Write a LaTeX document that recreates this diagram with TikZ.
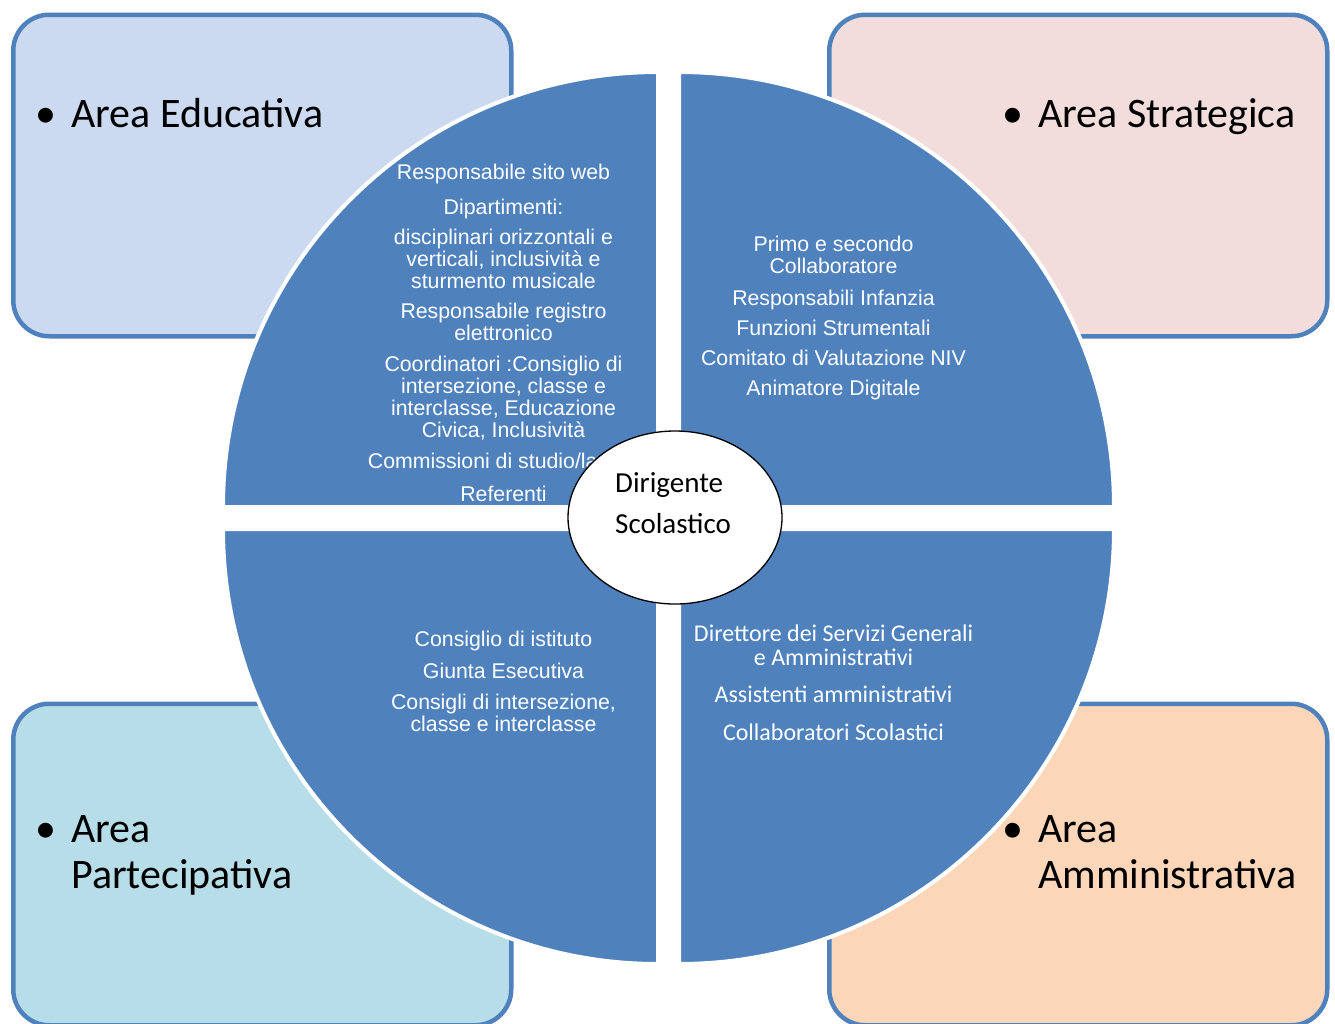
\documentclass[tikz,border=0pt]{standalone}
\usepackage{fontspec}
\setmainfont{Carlito}
\newfontfamily\arialfont{Liberation Sans}
\usepackage{tikz}
\usetikzlibrary{positioning,shapes.geometric}

\definecolor{quadblue}{HTML}{4F81BD}
\definecolor{edufill}{HTML}{CBDAF0}
\definecolor{strfill}{HTML}{F2DDDC}
\definecolor{parfill}{HTML}{B7DDE8}
\definecolor{ammfill}{HTML}{FBD6B8}

\tikzset{
	areabox/.style={draw=quadblue,line width=4.5pt,rounded corners=36pt,minimum width=498pt,minimum height=321.5pt,anchor=north west,inner sep=0pt},
	quadrant/.style={fill=quadblue,draw=white,line width=4pt},
	arealabel/.style={anchor=base west,inner sep=0pt,font=\fontsize{42}{46}\selectfont},
	voice/.style={anchor=north,align=center,inner sep=0pt,text=white,font=\arialfont\fontsize{21.3}{22}\selectfont},
	voicec/.style={voice,font=\fontsize{24}{24.3}\selectfont},
}

\begin{document}
\begin{tikzpicture}[x=1pt,y=-1pt]
		\useasboundingbox (0,0) rectangle (1335,1023);
		% area boxes
		\node[areabox,fill=edufill] (edu) at (11,12.5) {};
		\node[areabox,fill=strfill] (str) at (827,12.5) {};
		\node[areabox,fill=parfill] (par) at (11,701.5) {};
		\node[areabox,fill=ammfill] (amm) at (827,701.5) {};
		% quarter circles
		\filldraw[quadrant] (658,507) -- (223,507) arc (180:270:435) -- cycle;
		\filldraw[quadrant] (679,507) -- (679,72) arc (270:360:435) -- cycle;
		\filldraw[quadrant] (658,529) -- (223,529) arc (180:90:435) -- cycle;
		\filldraw[quadrant] (679,529) -- (1114,529) arc (0:90:435) -- cycle;
		% educativa
		\node[voice] (e1) at (503.5,164) {Responsabile sito web};
		\node[voice] (e2) at (503.5,199) {Dipartimenti:};
		\node[voice] (e3) at (503.5,228.5) {disciplinari orizzontali e\\verticali, inclusività e\\sturmento musicale};
		\node[voice] (e4) at (503.5,302.5) {Responsabile registro\\elettronico};
		\node[voice] (e5) at (503.5,356) {Coordinatori :Consiglio di\\intersezione, classe e\\interclasse, Educazione\\Civica, Inclusività};
		\node[voice] (e6) at (503.5,452.5) {Commissioni di studio/lavoro};
		\node[voice] (e7) at (503.5,486) {Referenti};
		% strategica
		\node[voice] (s1) at (833.5,236) {Primo e secondo\\Collaboratore};
		\node[voice] (s2) at (833.5,289.5) {Responsabili Infanzia};
		\node[voice] (s3) at (833.5,319.5) {Funzioni Strumentali};
		\node[voice] (s4) at (833.5,350) {Comitato di Valutazione NIV};
		\node[voice] (s5) at (833.5,380) {Animatore Digitale};
		% partecipativa
		\node[voice] (p1) at (503.5,631) {Consiglio di istituto};
		\node[voice] (p2) at (503.5,663) {Giunta Esecutiva};
		\node[voice] (p3) at (503.5,693.5) {Consigli di intersezione,\\classe e interclasse};
		% amministrativa
		\node[voicec] (a1) at (833.5,624.7) {Direttore dei Servizi Generali\\e Amministrativi};
		\node[voicec] (a2) at (833.5,685.7) {Assistenti amministrativi};
		\node[voicec] (a3) at (833.5,723.3) {Collaboratori Scolastici};
		% dirigente
		\node[ellipse,draw=black,line width=1.3pt,fill=white,minimum width=214pt,minimum height=173pt] (dir) at (675,517.5) {};
		\node[anchor=base west,inner sep=0pt,font=\fontsize{29}{30}\selectfont] (dir1) at (615,492) {Dirigente};
		\node[below=41pt of dir1.base west,anchor=base west,inner sep=0pt,font=\fontsize{29}{30}\selectfont] (dir2) {Scolastico};
		% area labels
		\node[arealabel] (edu1) at (35,127) {\makebox[36pt][l]{•}Area Educativa};
		\node[arealabel] (str1) at (1002,127) {\makebox[36pt][l]{•}Area Strategica};
		\node[arealabel] (par1) at (35,842) {\makebox[36pt][l]{•}Area};
		\node[arealabel,below right=46pt and 36pt of par1.base west,anchor=base west] (par2) {Partecipativa};
		\node[arealabel] (amm1) at (1002,842) {\makebox[36pt][l]{•}Area};
		\node[arealabel,below right=46pt and 36pt of amm1.base west,anchor=base west] (amm2) {Amministrativa};
	\end{tikzpicture}
\end{document}
